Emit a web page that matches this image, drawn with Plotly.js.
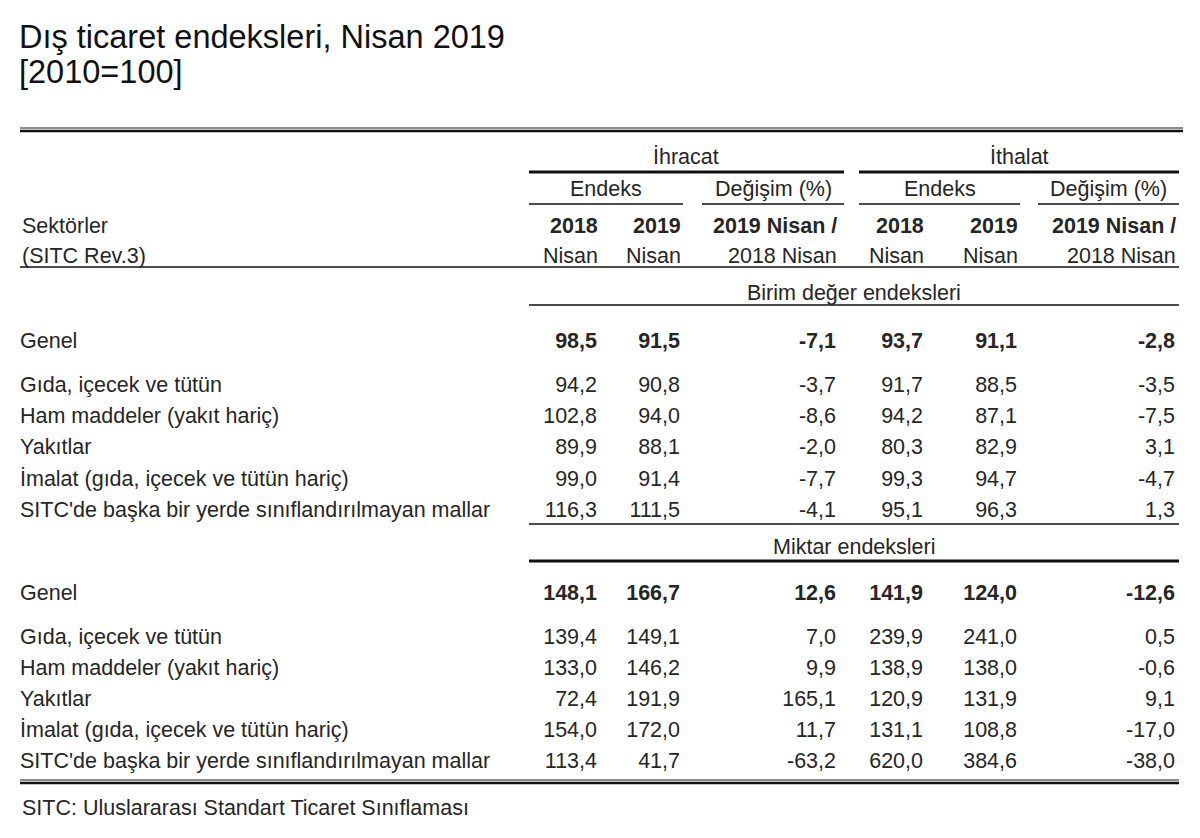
<!DOCTYPE html>
<html>
<head>
<meta charset="utf-8">
<script src="https://cdn.plot.ly/plotly-3.0.1.min.js"></script>
<style>html,body{margin:0;padding:0;background:#fff;}#chart{width:1200px;height:838px;}</style>
</head>
<body>
<div id="chart"></div>
<script>
// ---- Data ----
const titleLine1 = "Dış ticaret endeksleri, Nisan 2019";
const titleLine2 = "[2010=100]";
const footnote = "SITC: Uluslararası Standart Ticaret Sınıflaması";
const sectionNames = ["Birim değer endeksleri", "Miktar endeksleri"];
const rowLabels = ["Genel", "Gıda, içecek ve tütün", "Ham maddeler (yakıt hariç)", "Yakıtlar",
  "İmalat (gıda, içecek ve tütün hariç)", "SITC'de başka bir yerde sınıflandırılmayan mallar"];
const groupHeaders = ["İhracat", "İthalat"];
const subHeaders = ["Endeks", "Değişim (%)", "Endeks", "Değişim (%)"];
const colHeadTop = ["2018", "2019", "2019 Nisan /", "2018", "2019", "2019 Nisan /"];
const colHeadBottom = ["Nisan", "Nisan", "2018 Nisan", "Nisan", "Nisan", "2018 Nisan"];

// Birim değer endeksleri (unit value)
const unitExp2018 = [98.5, 94.2, 102.8, 89.9, 99.0, 116.3];
const unitExp2019 = [91.5, 90.8, 94.0, 88.1, 91.4, 111.5];
const unitExpChg  = [-7.1, -3.7, -8.6, -2.0, -7.7, -4.1];
const unitImp2018 = [93.7, 91.7, 94.2, 80.3, 99.3, 95.1];
const unitImp2019 = [91.1, 88.5, 87.1, 82.9, 94.7, 96.3];
const unitImpChg  = [-2.8, -3.5, -7.5, 3.1, -4.7, 1.3];
// Miktar endeksleri (quantity)
const qtyExp2018 = [148.1, 139.4, 133.0, 72.4, 154.0, 113.4];
const qtyExp2019 = [166.7, 149.1, 146.2, 191.9, 172.0, 41.7];
const qtyExpChg  = [12.6, 7.0, 9.9, 165.1, 11.7, -63.2];
const qtyImp2018 = [141.9, 239.9, 138.9, 120.9, 131.1, 620.0];
const qtyImp2019 = [124.0, 241.0, 138.0, 131.9, 108.8, 384.6];
const qtyImpChg  = [-12.6, 0.5, -0.6, 9.1, -17.0, -38.0];

// ---- Layout constants ----
const FONT = "Liberation Sans, Arial, sans-serif";
const TXT = "#262626";
const FS = 21.5;
const colRight = [597, 680, 836, 923, 1017, 1175];
const labelX = 20;
const sectionRowY = [
  [343, 387, 418, 449, 481, 512],
  [595, 639, 670, 701, 732, 763]
];
const sections = [
  [unitExp2018, unitExp2019, unitExpChg, unitImp2018, unitImp2019, unitImpChg],
  [qtyExp2018, qtyExp2019, qtyExpChg, qtyImp2018, qtyImp2019, qtyImpChg]
];

function fmt(v) { return v.toFixed(1).replace(".", ","); }

const traces = [];
sections.forEach((cols, s) => {
  const ys = sectionRowY[s];
  traces.push({
    type: "scatter", mode: "text", x: ys.map(() => labelX), y: ys,
    text: rowLabels, textposition: "middle right", cliponaxis: false,
    textfont: {family: FONT, size: FS, color: TXT}, hoverinfo: "skip", showlegend: false
  });
  cols.forEach((vals, c) => {
    traces.push({
      type: "scatter", mode: "text", x: vals.map(() => colRight[c]), y: ys,
      text: vals.map((v, i) => i === 0 ? "<b>" + fmt(v) + "</b>" : fmt(v)),
      textposition: "middle left", cliponaxis: false,
      textfont: {family: FONT, size: FS, color: TXT}, hoverinfo: "skip", showlegend: false
    });
  });
});

function ann(text, x, y, xanchor, opts) {
  return Object.assign({text: text, x: x, y: y, xref: "x", yref: "y", xanchor: xanchor, yanchor: "middle",
    showarrow: false, font: {family: FONT, size: FS, color: TXT}}, opts || {});
}

const annotations = [
  ann(titleLine1, 17, 37, "left", {font: {family: FONT, size: 32.5, color: "#111"}}),
  ann(titleLine2, 17, 72, "left", {font: {family: FONT, size: 32.5, color: "#111"}}),
  ann(groupHeaders[0], 686, 157, "center"),
  ann(groupHeaders[1], 1019, 157, "center"),
  ann(subHeaders[0], 606, 189, "center"),
  ann(subHeaders[1], 773, 189, "center"),
  ann(subHeaders[2], 940, 189, "center"),
  ann(subHeaders[3], 1108, 189, "center"),
  ann("Sektörler", labelX, 226, "left"),
  ann("(SITC Rev.3)", labelX, 256, "left"),
  ann(sectionNames[0], 854, 293, "center"),
  ann(sectionNames[1], 854, 547, "center"),
  ann(footnote, labelX, 808, "left")
];
colHeadTop.forEach((t, i) => annotations.push(ann("<b>" + t + "</b>", colRight[i] + 3, 226, "right")));
colHeadBottom.forEach((t, i) => annotations.push(ann(t, colRight[i] + 3, 256, "right")));

function hline(x0, x1, y, w, color) {
  return {type: "line", xref: "x", yref: "y", x0: x0, x1: x1, y0: y, y1: y,
    line: {color: color || "#111", width: w}};
}
const shapes = [
  hline(20, 1183, 128, 2, "#8a8a8a"), hline(20, 1183, 131, 2.5, "#111"),
  hline(529, 844, 172, 3), hline(859, 1179, 172, 3),
  hline(529, 683, 204, 1.5), hline(702, 844, 204, 1.5),
  hline(859, 1020, 204, 1.5), hline(1038, 1179, 204, 1.5),
  hline(20, 1179, 267, 1.5),
  hline(529, 1179, 305, 1.5),
  hline(529, 1179, 524, 1.5),
  hline(529, 1179, 561, 3),
  hline(20, 1179, 780, 2, "#8a8a8a"), hline(20, 1179, 783, 2.5, "#111")
];

const layout = {
  width: 1200, height: 838,
  margin: {l: 0, r: 0, t: 0, b: 0, pad: 0},
  paper_bgcolor: "#fff", plot_bgcolor: "#fff",
  xaxis: {range: [0, 1200], visible: false, fixedrange: true},
  yaxis: {range: [838, 0], visible: false, fixedrange: true},
  showlegend: false,
  annotations: annotations,
  shapes: shapes
};

Plotly.newPlot("chart", traces, layout, {staticPlot: true, displayModeBar: false});
</script>
</body>
</html>
